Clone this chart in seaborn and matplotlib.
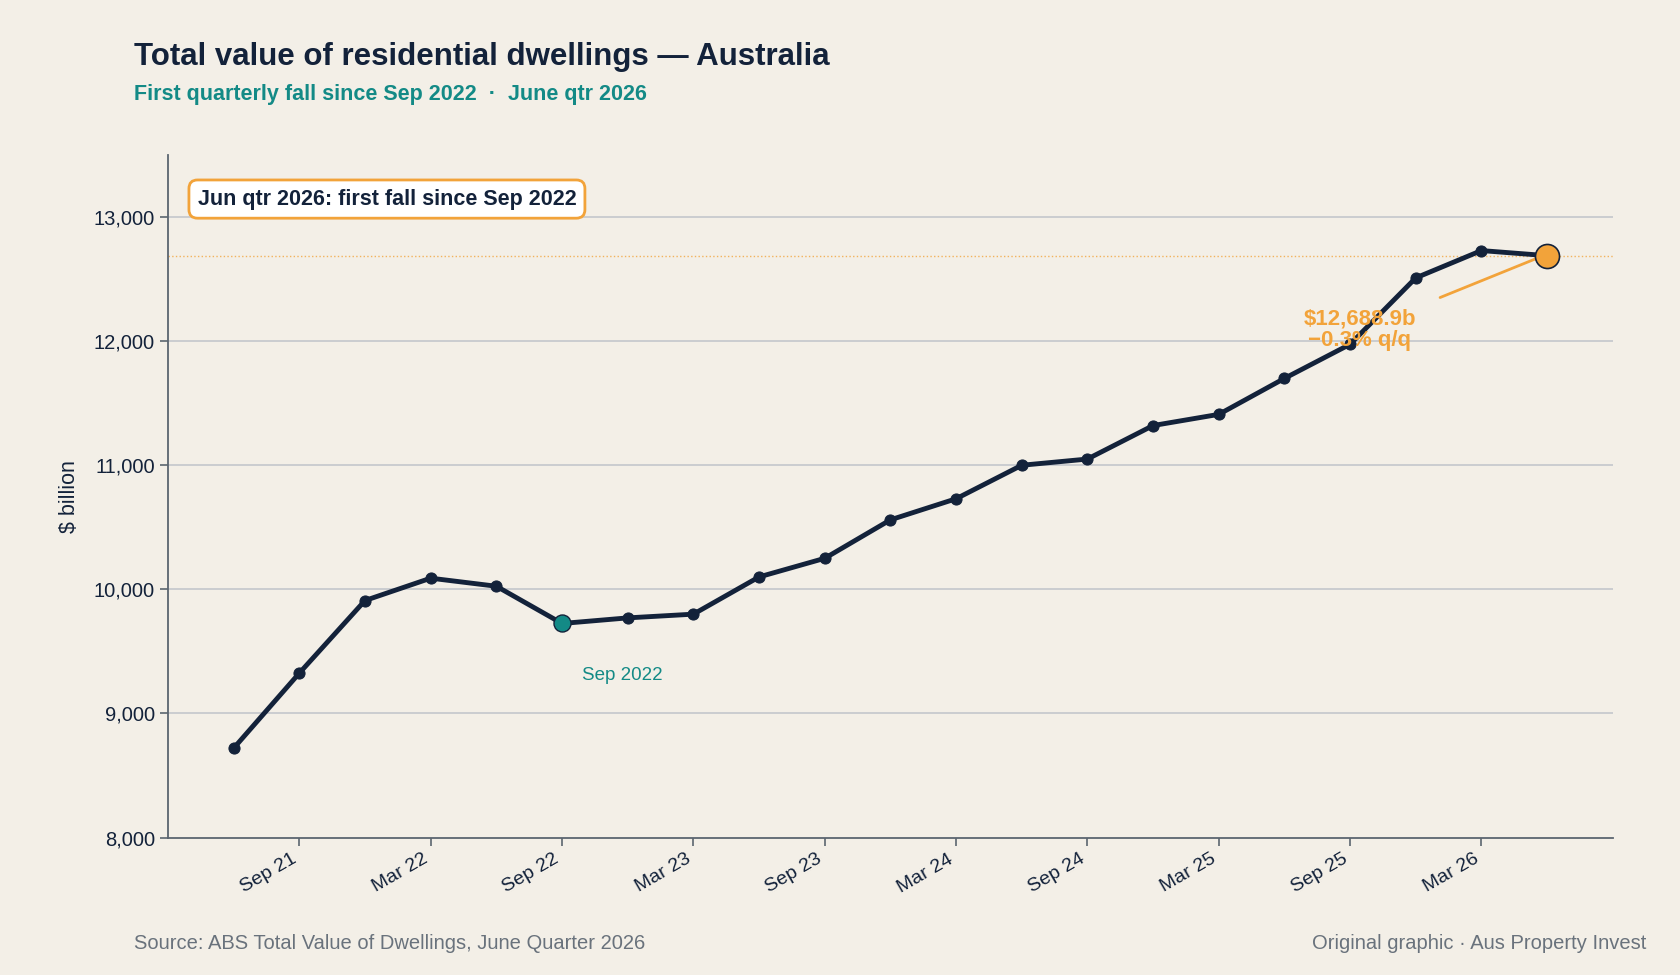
import matplotlib
matplotlib.use("Agg")
import matplotlib.pyplot as plt
import seaborn as sns
import pandas as pd

quarters = ["Jun 21", "Sep 21", "Dec 21", "Mar 22", "Jun 22", "Sep 22", "Dec 22", "Mar 23",
            "Jun 23", "Sep 23", "Dec 23", "Mar 24", "Jun 24", "Sep 24", "Dec 24", "Mar 25",
            "Jun 25", "Sep 25", "Dec 25", "Mar 26", "Jun 26"]
values = [8720, 9325, 9910, 10090, 10025, 9725, 9770, 9800, 10100, 10250, 10560, 10730,
          11000, 11050, 11320, 11410, 11700, 11975, 12510, 12730, 12688.9]
tick_labels = ["Sep 21", "Mar 22", "Sep 22", "Mar 23", "Sep 23", "Mar 24",
               "Sep 24", "Mar 25", "Sep 25", "Mar 26"]

bg = "#f3efe7"
navy = "#13223a"
teal = "#138a86"
orange = "#f2a33a"

sns.set_theme(style="white")
plt.rcParams["font.family"] = ["Liberation Sans", "DejaVu Sans"]

df = pd.DataFrame({"q": quarters, "value": values})
df["i"] = range(len(df))

fig = plt.figure(figsize=(16.8, 9.75), dpi=100, facecolor=bg)
ax = fig.add_axes([0.100, 0.141, 0.860, 0.700], facecolor=bg)

ax.set_ylim(8000, 13500)
ax.set_xlim(-1, 21)
for y in range(9000, 13001, 1000):
    ax.axhline(y, color="#c3c7cc", lw=1.2, zorder=0)
ax.axhline(values[-1], color=orange, lw=1, ls=":", alpha=0.8, zorder=0)

sns.lineplot(data=df, x="i", y="value", ax=ax, color=navy, lw=3.5, marker="o",
             markersize=8, markeredgecolor=navy, zorder=3)
trough = quarters.index("Sep 22")
ax.scatter([trough], [values[trough]], s=150, color=teal, edgecolor=navy, lw=1, zorder=4)
ax.scatter([len(values) - 1], [values[-1]], s=300, color=orange, edgecolor=navy, lw=1.2, zorder=4)
ax.text(trough + 0.3, values[trough] - 350, "Sep 2022", color=teal, fontsize=13.5, va="top")

ax.annotate("$12,688.9b\n\u22120.3% q/q", xy=(len(values) - 1.15, values[-1] - 20),
            xytext=(17.15, 12090), color=orange, fontsize=16, fontweight="bold",
            ha="center", va="center", linespacing=1.05,
            arrowprops=dict(arrowstyle="-", color=orange, lw=2, shrinkA=16, shrinkB=0))

ax.text(-0.55, 13145, "Jun qtr 2026: first fall since Sep 2022", fontsize=15.5, fontweight="bold",
        color=navy, va="center",
        bbox=dict(boxstyle="round,pad=0.4", fc="white", ec=orange, lw=2))

tick_pos = [quarters.index(t) for t in tick_labels]
ax.set_xticks(tick_pos)
ax.set_xticklabels(tick_labels, rotation=30, ha="right", fontsize=14, color=navy)
ax.set_yticks(range(8000, 13001, 1000))
ax.set_yticklabels([f"{v:,}" for v in range(8000, 13001, 1000)], fontsize=14.5, color=navy)
ax.tick_params(axis="both", length=6, color="#5b6570", width=1.2, left=True, bottom=True)
ax.set_xlabel("")
ax.set_ylabel("$ billion", fontsize=15.5, color=navy, labelpad=10)
for s in ["top", "right"]:
    ax.spines[s].set_visible(False)
for s in ["left", "bottom"]:
    ax.spines[s].set_color("#5b6570")
    ax.spines[s].set_linewidth(1.3)

fig.text(0.080, 0.942, "Total value of residential dwellings \u2014 Australia", fontsize=22.5,
         fontweight="bold", color=navy, va="center")
fig.text(0.080, 0.903, "First quarterly fall since Sep 2022  \u00b7  June qtr 2026", fontsize=15.5,
         fontweight="bold", color=teal, va="center")
fig.text(0.080, 0.032, "Source: ABS Total Value of Dwellings, June Quarter 2026", fontsize=14.5,
         color="#69727c", va="center")
fig.text(0.980, 0.032, "Original graphic \u00b7 Aus Property Invest", fontsize=14.5,
         color="#69727c", va="center", ha="right")

fig.savefig("out.png", dpi=100, facecolor=bg)
